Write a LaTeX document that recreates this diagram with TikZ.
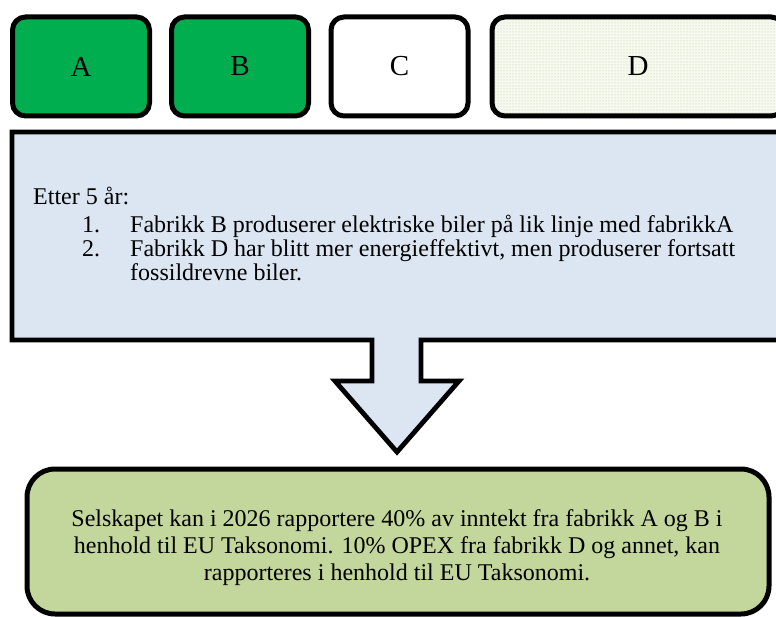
\documentclass[tikz,border=0pt]{standalone}
\usepackage{fontspec}
\setmainfont{Liberation Serif}
\usetikzlibrary{patterns}

\definecolor{factorygreen}{RGB}{0,173,79}
\definecolor{paleblue}{RGB}{220,230,242}
\definecolor{olivegreen}{RGB}{195,214,155}
\definecolor{dotgreen}{RGB}{185,205,150}
\definecolor{dotbase}{RGB}{246,249,240}

\tikzset{
  factory/.style={draw=black, line width=5pt, rounded corners=13pt,
    minimum width=137pt, minimum height=99pt, inner sep=0pt,
    font=\fontsize{29}{33}\selectfont},
  callout/.style={draw=black, line width=4.8pt, fill=paleblue, line join=miter},
  summary/.style={draw=black, line width=5pt, fill=olivegreen, rounded corners=28pt},
  bodytext/.style={inner sep=0pt, font=\fontsize{24}{27}\selectfont},
}

\begin{document}
\begin{tikzpicture}[x=1pt, y=-1pt]
\useasboundingbox (0,0) rectangle (776,617);
\clip (0,0) rectangle (776,617);

% factories
\node[factory, fill=factorygreen] (A) at (81,66.5) {A};
\node[factory, fill=factorygreen] (B) at (240,66.5) {B};
\node[factory, fill=white] (C) at (399.5,66.5) {C};
\node[factory, preaction={fill=dotbase}, pattern=dots, pattern color=dotgreen,
  minimum width=292pt] (D) at (638,66.5) {};
\node[font=\fontsize{29}{33}\selectfont] (Dlabel) at (D.center) {D};

% callout box with downward arrow
\draw[callout] (12,132) -- (800,132) -- (800,340) -- (421,340) -- (421,381)
  -- (459,381) -- (397,452) -- (335,381) -- (372,381) -- (372,340)
  -- (12,340) -- cycle;

\node[bodytext, anchor=base west] (intro) at (33,205) {Etter 5 år:};
\node[bodytext, anchor=base west] (n1) at (82,233) {1.};
\node[bodytext, anchor=base west] (t1) at (130,233) {Fabrikk B produserer elektriske biler på lik linje med fabrikkA};
\node[bodytext, anchor=base west] (n2) at (82,257) {2.};
\node[bodytext, anchor=base west] (t2) at (130,257) {Fabrikk D har blitt mer energieffektivt, men produserer fortsatt};
\node[bodytext, anchor=base west] (t3) at (130,281) {fossildrevne biler.};

% conclusion
\draw[summary] (27,469) rectangle (769,614);
\node[bodytext, align=center] (result) at (397,548) {Selskapet kan i 2026 rapportere 40\% av inntekt fra fabrikk A og B i\\
henhold til EU Taksonomi. 10\% OPEX fra fabrikk D og annet, kan\\
rapporteres i henhold til EU Taksonomi.};
\end{tikzpicture}
\end{document}
